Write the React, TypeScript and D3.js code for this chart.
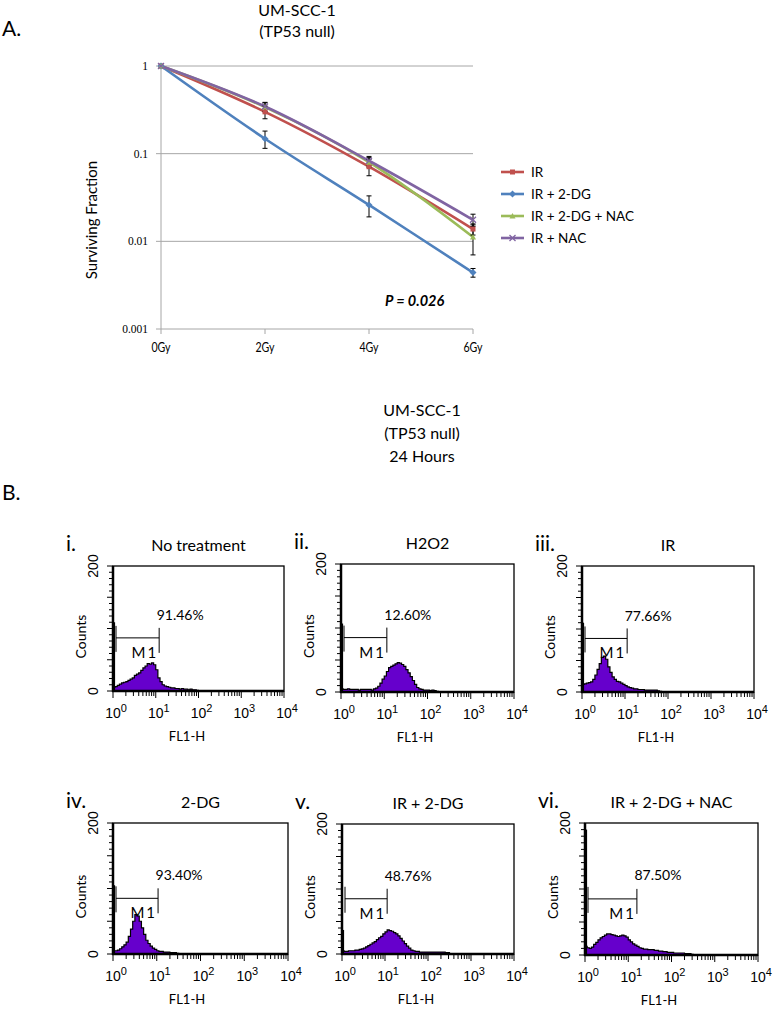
import React from "react";
import * as d3 from "d3";

// ---------- Panel A data ----------
const doseLabels = ["0Gy", "2Gy", "4Gy", "6Gy"];
const doses = [0, 2, 4, 6];
const seriesNames = ["IR", "IR + 2-DG", "IR + 2-DG + NAC", "IR + NAC"];
const seriesColors = ["#C0504D", "#4F81BD", "#9BBB59", "#8064A2"];
const irValues = [1, 0.3, 0.071, 0.0138];
const ir2dgValues = [1, 0.148, 0.026, 0.0044];
const ir2dgNacValues = [1, 0.34, 0.08, 0.0112];
const irNacValues = [1, 0.345, 0.083, 0.0176];
const irErr = [0, 0.05, 0.015, 0.002];
const ir2dgErr = [0, 0.033, 0.007, 0.0005];
const ir2dgNacErr = [0, 0.04, 0.01, 0.0042];
const irNacErr = [0, 0.04, 0.01, 0.0028];
const yTicksA = [1, 0.1, 0.01, 0.001];
const yTickLabelsA = ["1", "0.1", "0.01", "0.001"];

// ---------- Panel B data (counts per 0.05-decade bin, starting at 10^0) ----------
const romanLabels = ["i.", "ii.", "iii.", "iv.", "v.", "vi."];
const panelTitles = ["No treatment", "H2O2", "IR", "2-DG", "IR + 2-DG", "IR + 2-DG + NAC"];
const percentLabels = ["91.46%", "12.60%", "77.66%", "93.40%", "48.76%", "87.50%"];
const m1EndDecades = [1.08, 1.06, 1.05, 1.03, 1.05, 1.2];
const firstChannelCounts = [110, 107, 110, 105, 37, 190];
const countsNoTreatment = [6, 7, 9, 11, 13, 14, 15, 17, 19, 21, 25, 27, 29, 33, 37, 40, 44, 43, 45, 42, 34, 21, 15, 10, 8, 7, 6, 5, 5, 4, 4, 3, 4, 3, 3, 2, 3, 2, 2, 1];
const countsH2O2 = [5, 4, 4, 5, 4, 4, 4, 4, 3, 4, 4, 4, 4, 4, 3, 5, 6, 9, 14, 20, 25, 32, 38, 40, 42, 44, 46, 45, 43, 40, 35, 30, 24, 18, 12, 7, 5, 4, 3, 3, 3, 2, 3, 2, 1];
const countsIR = [12, 13, 14, 15, 16, 20, 27, 36, 45, 55, 57, 52, 40, 31, 24, 20, 17, 16, 14, 12, 10, 8, 7, 6, 5, 5, 4, 4, 4, 3, 3, 3, 3, 3, 3, 2, 1];
const counts2DG = [5, 5, 6, 8, 11, 14, 18, 27, 38, 50, 60, 58, 50, 40, 30, 21, 16, 12, 9, 7, 5, 4, 4, 3, 3, 3, 2, 2, 2, 1];
const countsIR2DG = [5, 4, 4, 5, 5, 5, 6, 6, 7, 8, 9, 11, 13, 15, 17, 19, 22, 25, 27, 31, 34, 37, 36, 35, 33, 31, 28, 24, 20, 16, 12, 9, 6, 5, 4, 4, 3, 3, 3, 3, 3, 3, 3, 3, 3, 3, 3, 3, 2, 2];
const countsIR2DGNAC = [13, 11, 10, 12, 16, 19, 23, 26, 28, 30, 32, 32, 31, 30, 29, 28, 29, 30, 29, 27, 23, 20, 17, 15, 13, 11, 10, 9, 9, 8, 8, 8, 7, 7, 6, 6, 5, 5, 4, 4, 4, 3, 3, 3, 3, 3, 2, 2, 2, 1];
const histCounts = [countsNoTreatment, countsH2O2, countsIR, counts2DG, countsIR2DG, countsIR2DGNAC];
const binWidth = 0.05;
const decadeLabels = ["0", "1", "2", "3", "4"];

// layout of the six histogram boxes [left, top, right, bottom]
const boxes = [
  [113, 566, 284, 691],
  [341, 564, 514, 692],
  [582, 566, 754, 692],
  [113, 823, 288, 954],
  [342, 824, 514, 954],
  [585, 823, 758, 955],
];

const calibri = "Lato, 'Open Sans', sans-serif";
const arial = "'Liberation Sans', Arial, sans-serif";

function PanelA() {
  const x = d3.scaleLinear().domain([0, 6]).range([161, 473]);
  const y = d3.scaleLog().domain([0.001, 1]).range([329, 66]);
  const all = [irValues, ir2dgValues, ir2dgNacValues, irNacValues];
  const errs = [irErr, ir2dgErr, ir2dgNacErr, irNacErr];
  const line = d3
    .line<number>()
    .x((_, i) => x(doses[i]))
    .y((v) => y(v))
    .curve(d3.curveCatmullRom.alpha(0.5));

  const marker = (s: number, cx: number, cy: number, key: string) => {
    const c = seriesColors[s];
    if (s === 0) return <rect key={key} x={cx - 2.5} y={cy - 2.5} width={5} height={5} fill={c} />;
    if (s === 1)
      return <path key={key} d={`M${cx},${cy - 3.5}L${cx + 3.5},${cy}L${cx},${cy + 3.5}L${cx - 3.5},${cy}Z`} fill={c} />;
    if (s === 2)
      return <path key={key} d={`M${cx},${cy - 3}L${cx + 3},${cy + 2.5}L${cx - 3},${cy + 2.5}Z`} fill={c} />;
    return (
      <path key={key} d={`M${cx - 3},${cy - 3}L${cx + 3},${cy + 3}M${cx - 3},${cy + 3}L${cx + 3},${cy - 3}`} stroke={c} strokeWidth={1.3} />
    );
  };

  return (
    <g>
      <text x={2} y={36} fontFamily={calibri} fontSize={21}>A.</text>
      <text x={297} y={16} textAnchor="middle" fontFamily={calibri} fontSize={16}>UM-SCC-1</text>
      <text x={297} y={37} textAnchor="middle" fontFamily={calibri} fontSize={16}>(TP53 null)</text>
      {yTicksA.map((t, i) => (
        <g key={"g" + i}>
          {t !== 0.001 && <line x1={161} x2={473} y1={y(t)} y2={y(t)} stroke="#a6a6a6" strokeWidth={1} />}
          <line x1={156} x2={161} y1={y(t)} y2={y(t)} stroke="#a6a6a6" />
          <text x={148} y={y(t) + 4} textAnchor="end" fontFamily="'Liberation Serif', serif" fontSize={11.5}>
            {yTickLabelsA[i]}
          </text>
        </g>
      ))}
      <line x1={161} x2={161} y1={66} y2={329} stroke="#a6a6a6" />
      <line x1={161} x2={473} y1={329} y2={329} stroke="#a6a6a6" />
      {doses.map((d, i) => (
        <g key={"x" + i}>
          <line x1={x(d)} x2={x(d)} y1={329} y2={334} stroke="#a6a6a6" />
          <text x={x(d)} y={352} textAnchor="middle" fontFamily={calibri} fontSize={12.5} transform={`translate(${x(d)},0) scale(0.85,1) translate(${-x(d)},0)`}>
            {doseLabels[i]}
          </text>
        </g>
      ))}
      <text transform="translate(97,220) rotate(-90)" textAnchor="middle" fontFamily={calibri} fontSize={15}>
        Surviving Fraction
      </text>
      {all.map((vals, s) => (
        <path key={"l" + s} d={line(vals) || ""} fill="none" stroke={seriesColors[s]} strokeWidth={2.6} />
      ))}
      {all.map((vals, s) =>
        vals.map((v, i) =>
          errs[s][i] > 0 ? (
            <g key={`e${s}-${i}`} stroke="#000" strokeWidth={1}>
              <line x1={x(doses[i])} x2={x(doses[i])} y1={y(v + errs[s][i])} y2={y(v - errs[s][i])} />
              <line x1={x(doses[i]) - 2.5} x2={x(doses[i]) + 2.5} y1={y(v + errs[s][i])} y2={y(v + errs[s][i])} />
              <line x1={x(doses[i]) - 2.5} x2={x(doses[i]) + 2.5} y1={y(v - errs[s][i])} y2={y(v - errs[s][i])} />
            </g>
          ) : null
        )
      )}
      {all.map((vals, s) => vals.map((v, i) => marker(s, x(doses[i]), y(v), `m${s}-${i}`)))}
      <text x={385} y={306} fontFamily={calibri} fontSize={14.5} fontWeight="bold" fontStyle="italic">P = 0.026</text>
      {seriesNames.map((n, s) => {
        const ly = 172 + s * 22;
        return (
          <g key={"lg" + s}>
            <line x1={501} x2={524} y1={ly} y2={ly} stroke={seriesColors[s]} strokeWidth={2.6} />
            {marker(s, 512.5, ly, "lm" + s)}
            <text x={531} y={ly + 5} fontFamily={calibri} fontSize={13.5}>{n}</text>
          </g>
        );
      })}
    </g>
  );
}

function Histogram({ idx }: { idx: number }) {
  const [L, T, R, B] = boxes[idx];
  const xs = d3.scaleLog().domain([1, 1e4]).range([L, R]);
  const ys = d3.scaleLinear().domain([0, 200]).range([B, T]);
  const counts = histCounts[idx];
  const pts = counts.map((c, i) => ({ d: i * binWidth, c }));
  pts.push({ d: counts.length * binWidth, c: 0 });
  const area = d3
    .area<{ d: number; c: number }>()
    .x((p) => xs(Math.pow(10, p.d)))
    .y0(B)
    .y1((p) => ys(p.c))
    .curve(d3.curveStepAfter);
  const outline = d3
    .line<{ d: number; c: number }>()
    .x((p) => xs(Math.pow(10, p.d)))
    .y((p) => ys(p.c))
    .curve(d3.curveStepAfter);

  const yTickVals = d3.range(0, 201, 10);
  const xTickVals: number[] = [];
  for (let d = 0; d < 4; d++) for (let k = 1; k < 10; k++) xTickVals.push(k * Math.pow(10, d));
  xTickVals.push(1e4);

  const m1x = xs(Math.pow(10, m1EndDecades[idx]));
  const m1y = ys(85);
  const cx = (L + R) / 2;

  return (
    <g>
      <text x={L - 47} y={T - 15} fontFamily={calibri} fontSize={21}>{romanLabels[idx]}</text>
      <text x={cx} y={T - 15} textAnchor="middle" fontFamily={calibri} fontSize={16}>{panelTitles[idx]}</text>
      <path d={area(pts) || ""} fill="#6600cc" />
      <path d={outline(pts) || ""} fill="none" stroke="#000" strokeWidth={1.2} />
      <line x1={L + 1} x2={L + 1} y1={B} y2={ys(firstChannelCounts[idx])} stroke="#000" strokeWidth={2.2} />
      <rect x={L} y={T} width={R - L} height={B - T} fill="none" stroke="#000" strokeWidth={1.3} />
      <line x1={L} x2={L} y1={T} y2={B + 1} stroke="#000" strokeWidth={2.5} />
      <line x1={L - 1} x2={R} y1={B} y2={B} stroke="#000" strokeWidth={2.5} />
      {yTickVals.map((v) => (
        <line key={"yt" + v} x1={L} x2={L - (v % 50 === 0 ? 6 : 4)} y1={ys(v)} y2={ys(v)} stroke="#000" strokeWidth={1} />
      ))}
      {xTickVals.map((v, i) => {
        const major = Math.abs(Math.log10(v) - Math.round(Math.log10(v))) < 1e-9;
        return <line key={"xt" + i} x1={xs(v)} x2={xs(v)} y1={B} y2={B + (major ? 7 : 5)} stroke="#000" strokeWidth={1} />;
      })}
      {decadeLabels.map((lab, i) => (
        <text key={"xl" + i} x={xs(Math.pow(10, i)) + 3} y={B + 27} textAnchor="middle" fontFamily={arial} fontSize={14}>
          10<tspan dy={-6} fontSize={11}>{lab}</tspan>
        </text>
      ))}
      <text x={L + 74} y={B + 50} textAnchor="middle" fontFamily={calibri} fontSize={13}>FL1-H</text>
      <text transform={`translate(${L - 15},${T}) rotate(-90)`} textAnchor="middle" fontFamily={arial} fontSize={14}>200</text>
      <text transform={`translate(${L - 15},${B}) rotate(-90)`} textAnchor="middle" fontFamily={arial} fontSize={14}>0</text>
      <text transform={`translate(${L - 27},${(T + B) / 2 + 8}) rotate(-90)`} textAnchor="middle" fontFamily={calibri} fontSize={14}>Counts</text>
      {/* M1 marker */}
      <line x1={L + 3} x2={m1x} y1={m1y} y2={m1y} stroke="#000" strokeWidth={1} />
      <line x1={L + 3} x2={L + 3} y1={m1y - 12} y2={m1y + 14} stroke="#000" strokeWidth={1} />
      <line x1={m1x} x2={m1x} y1={m1y - 10} y2={m1y + 15} stroke="#000" strokeWidth={1} />
      <text x={m1x - 1} y={m1y + 20} textAnchor="end" fontFamily={calibri} fontSize={15} letterSpacing={2}>M1</text>
      <text x={m1x + 21} y={ys(113)} textAnchor="middle" fontFamily={calibri} fontSize={14}>{percentLabels[idx]}</text>
    </g>
  );
}

export default function App() {
  return (
    <svg width={777} height={1036} style={{ position: "absolute", left: 0, top: 0, background: "#fff" }}>
      <rect width={777} height={1036} fill="#fff" />
      <PanelA />
      <text x={422} y={416} textAnchor="middle" fontFamily={calibri} fontSize={16}>UM-SCC-1</text>
      <text x={422} y={439} textAnchor="middle" fontFamily={calibri} fontSize={16}>(TP53 null)</text>
      <text x={422} y={462} textAnchor="middle" fontFamily={calibri} fontSize={16}>24 Hours</text>
      <text x={2} y={500} fontFamily={calibri} fontSize={21}>B.</text>
      {boxes.map((_, i) => (
        <Histogram key={i} idx={i} />
      ))}
    </svg>
  );
}
